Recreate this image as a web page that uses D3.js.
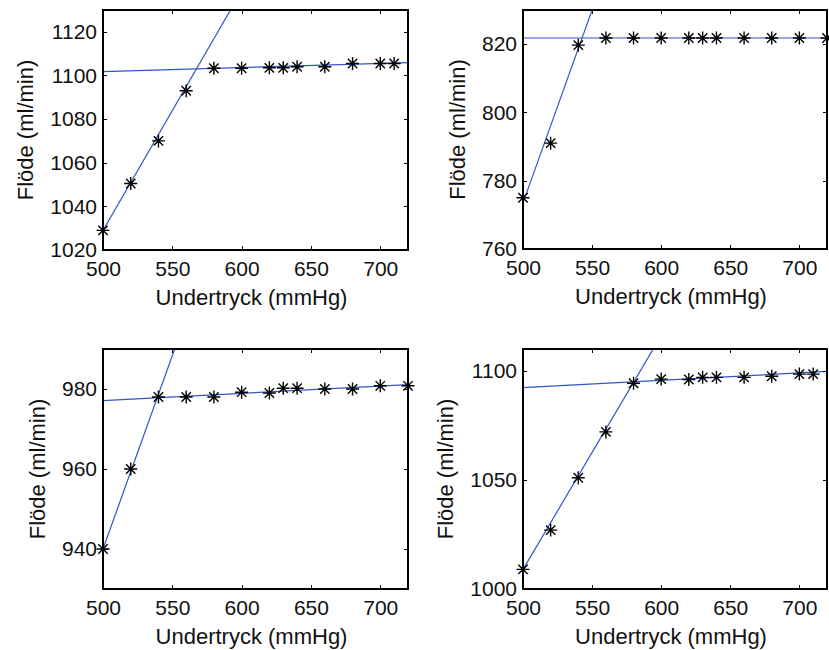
<!DOCTYPE html>
<html>
<head>
<meta charset="utf-8">
<script src="https://cdn.jsdelivr.net/npm/d3@7"></script>
<style>
  html, body { margin: 0; padding: 0; background: #fff; }
  svg { display: block; }
  text { font-family: "Liberation Sans", Arial, sans-serif; fill: #111; }
</style>
</head>
<body>
<svg id="fig" width="829" height="650"></svg>
<script>
// Pressure levels (mmHg) of each measurement series
const pressureA = [500, 520, 540, 560, 580, 600, 620, 630, 640, 660, 680, 700, 710];
const pressureB = [500, 520, 540, 560, 580, 600, 620, 630, 640, 660, 680, 700, 720];

// Measured flow (ml/min)
const flow1 = [1029, 1050.5, 1070, 1093, 1103.3, 1103.3, 1103.5, 1103.5, 1104, 1104, 1105.5, 1105.5, 1105.5];
const flow2 = [775, 791, 819.7, 821.8, 821.8, 821.8, 821.8, 821.8, 821.8, 821.8, 821.8, 821.8, 821.8];
const flow3 = [940, 960, 978, 978, 978, 979.2, 979, 980.2, 980.2, 980, 980, 980.8, 980.8];
const flow4 = [1009, 1027, 1051, 1072, 1094.3, 1096.2, 1096, 1097, 1097, 1097, 1097.5, 1098.5, 1098.5];

// Fitted lines: flow at 500 and at 720 mmHg
const riseFit1 = [1029, 1270.6];
const flatFit1 = [1101.8, 1105.9];
const riseFit2 = [773.5, 1022.1];
const flatFit2 = [821.8, 821.8];
const riseFit3 = [940, 1152.7];
const flatFit3 = [977.1, 981.1];
const riseFit4 = [1009, 1244.8];
const flatFit4 = [1092.3, 1099.7];

// Axis limits and tick values
const xDomain = [500, 720];
const xTicks = [500, 550, 600, 650, 700];
const yDomain1 = [1020, 1130], yTicks1 = [1020, 1040, 1060, 1080, 1100, 1120];
const yDomain2 = [760, 830],   yTicks2 = [760, 780, 800, 820];
const yDomain3 = [930, 990],   yTicks3 = [940, 960, 980];
const yDomain4 = [1000, 1110], yTicks4 = [1000, 1050, 1100];

const xLabel = "Undertryck (mmHg)";
const yLabel = "Flöde (ml/min)";

const panels = [
  { box: { left: 103, top: 10,  width: 305, height: 240 }, x: pressureA, y: flow1, rise: riseFit1, flat: flatFit1, yDomain: yDomain1, yTicks: yTicks1 },
  { box: { left: 523, top: 10,  width: 304, height: 239 }, x: pressureB, y: flow2, rise: riseFit2, flat: flatFit2, yDomain: yDomain2, yTicks: yTicks2 },
  { box: { left: 103, top: 349, width: 305, height: 240 }, x: pressureB, y: flow3, rise: riseFit3, flat: flatFit3, yDomain: yDomain3, yTicks: yTicks3 },
  { box: { left: 523, top: 349, width: 304, height: 240 }, x: pressureA, y: flow4, rise: riseFit4, flat: flatFit4, yDomain: yDomain4, yTicks: yTicks4 }
];

const svg = d3.select("#fig");
const lineColor = "#3355c8";
const tickLen = 4;
const tickFont = 21;
const labelFont = 22;

// Asterisk marker: plus and cross overlaid
function asterisk(r) {
  const a = r * 0.72;
  return `M${-r},0H${r}M0,${-r}V${r}M${-a},${-a}L${a},${a}M${-a},${a}L${a},${-a}`;
}

panels.forEach((p, i) => {
  const { left, top, width, height } = p.box;
  const g = svg.append("g").attr("transform", `translate(${left},${top})`);
  const x = d3.scaleLinear().domain(xDomain).range([0, width]);
  const y = d3.scaleLinear().domain(p.yDomain).range([height, 0]);

  const clipId = `clip${i}`;
  g.append("clipPath").attr("id", clipId)
    .append("rect").attr("width", width).attr("height", height);

  // Fitted lines, clipped to the axes box
  const fit = d3.line().x(d => x(d[0])).y(d => y(d[1]));
  [p.rise, p.flat].forEach(ends => {
    g.append("path")
      .datum([[xDomain[0], ends[0]], [xDomain[1], ends[1]]])
      .attr("clip-path", `url(#${clipId})`)
      .attr("d", fit)
      .attr("fill", "none")
      .attr("stroke", lineColor)
      .attr("stroke-width", 1.2);
  });

  // Measurement markers
  g.append("g").selectAll("path")
    .data(p.x.map((v, k) => [v, p.y[k]]))
    .join("path")
    .attr("transform", d => `translate(${x(d[0])},${y(d[1])})`)
    .attr("d", asterisk(6.5))
    .attr("fill", "none")
    .attr("stroke", "#000")
    .attr("stroke-width", 1.4);

  // Axes with inward ticks on all four sides
  const styleAxis = sel => {
    sel.select(".domain").remove();
    sel.selectAll(".tick line").attr("stroke", "#000").attr("shape-rendering", "crispEdges");
    sel.selectAll("text").attr("font-size", tickFont).attr("font-family", null).attr("fill", "#111");
  };
  g.append("g").attr("transform", `translate(0,${height})`)
    .call(d3.axisBottom(x).tickValues(xTicks).tickSize(-tickLen).tickPadding(11).tickFormat(d3.format("d")))
    .call(styleAxis);
  g.append("g")
    .call(d3.axisTop(x).tickValues(xTicks).tickSize(-tickLen).tickFormat(""))
    .call(styleAxis);
  const yAxisG = g.append("g")
    .call(d3.axisLeft(y).tickValues(p.yTicks).tickSize(-tickLen).tickPadding(6).tickFormat(d3.format("d")))
    .call(styleAxis);
  g.append("g").attr("transform", `translate(${width},0)`)
    .call(d3.axisRight(y).tickValues(p.yTicks).tickSize(-tickLen).tickFormat(""))
    .call(styleAxis);

  // Axes box
  g.append("rect")
    .attr("width", width).attr("height", height)
    .attr("fill", "none").attr("stroke", "#000").attr("stroke-width", 1.3)
    .attr("shape-rendering", "crispEdges");

  // Axis labels
  g.append("text")
    .attr("x", width / 2 - 4)
    .attr("y", height + 55)
    .attr("text-anchor", "middle")
    .attr("font-size", labelFont)
    .text(xLabel);

  let maxW = 0;
  yAxisG.selectAll("text").each(function () { maxW = Math.max(maxW, this.getComputedTextLength()); });
  const baseX = -6 - maxW - 17;
  g.append("text")
    .attr("transform", `translate(${baseX},${height / 2}) rotate(-90)`)
    .attr("text-anchor", "middle")
    .attr("font-size", labelFont)
    .text(yLabel);
});
</script>
</body>
</html>
